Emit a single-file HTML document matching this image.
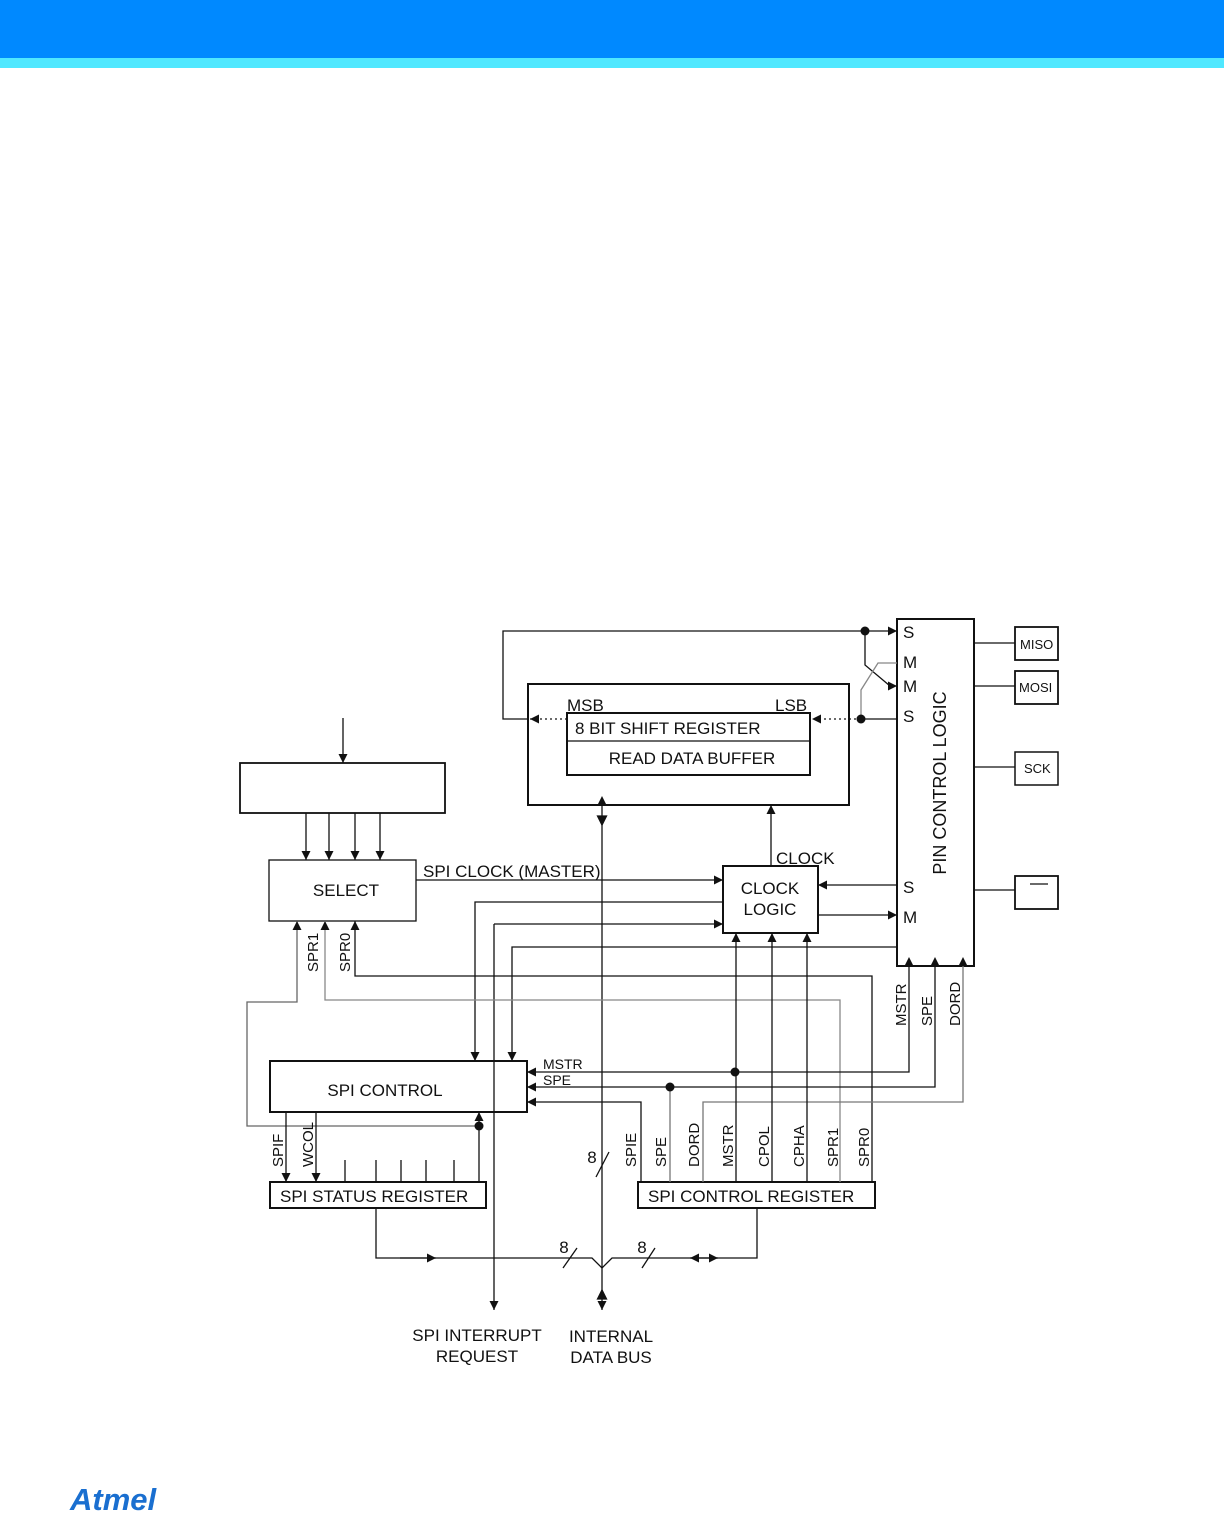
<!DOCTYPE html>
<html><head><meta charset="utf-8"><style>
html,body{margin:0;padding:0;background:#fff}
svg{display:block}
text{font-family:"Liberation Sans",Arial,sans-serif;fill:#111}
</style></head><body>
<svg width="1224" height="1513" viewBox="0 0 1224 1513" xmlns="http://www.w3.org/2000/svg">
<defs>
<marker id="a" viewBox="0 0 10 10" refX="10" refY="5" markerWidth="9" markerHeight="9" markerUnits="userSpaceOnUse" orient="auto"><path d="M0,0 L10,5 L0,10 z" fill="#111"/></marker>
<marker id="as" viewBox="0 0 10 10" refX="0" refY="5" markerWidth="9" markerHeight="9" markerUnits="userSpaceOnUse" orient="auto-start-reverse"><path d="M0,0 L10,5 L0,10 z" fill="#111"/></marker>
</defs>
<rect x="0" y="0" width="1224" height="58" fill="#0089ff"/>
<rect x="0" y="58" width="1224" height="10" fill="#50e8ff"/>
<text x="70" y="1510" font-size="31" font-style="italic" style="fill:#1a6fd0" font-weight="bold">Atmel</text>

<g fill="none" stroke="#111" stroke-width="1.3">
<rect x="897" y="619" width="77" height="347" stroke-width="2"/>
<rect x="1015" y="627" width="43" height="33" stroke-width="1.8"/>
<rect x="1015" y="671" width="43" height="33" stroke-width="1.8"/>
<rect x="1015" y="752" width="43" height="33" stroke-width="1.5"/>
<rect x="1015" y="876" width="43" height="33" stroke-width="1.8"/>
<line x1="1030" y1="884" x2="1048" y2="884"/>
<line x1="974" y1="643" x2="1015" y2="643"/>
<line x1="974" y1="686" x2="1015" y2="686"/>
<line x1="974" y1="767" x2="1015" y2="767"/>
<line x1="974" y1="890" x2="1015" y2="890"/>
<rect x="528" y="684" width="321" height="121" stroke-width="2"/>
<rect x="567" y="713" width="243" height="62" stroke-width="2"/>
<line x1="567" y1="741" x2="810" y2="741"/>
<rect x="240" y="763" width="205" height="50" stroke-width="1.8"/>
<rect x="269" y="860" width="147" height="61"/>
<rect x="723" y="866" width="95" height="67" stroke-width="2"/>
<rect x="270" y="1061" width="257" height="51" stroke-width="2"/>
<rect x="270" y="1182" width="216" height="26" stroke-width="2"/>
<rect x="638" y="1182" width="237" height="26" stroke-width="2"/>

<polyline points="528,719 503,719 503,631 897,631" marker-end="url(#a)"/>
<line x1="567" y1="719" x2="530" y2="719" stroke-dasharray="2,3" marker-end="url(#a)"/>
<line x1="897" y1="719" x2="861" y2="719"/>
<line x1="861" y1="719" x2="812" y2="719" stroke-dasharray="2,3" marker-end="url(#a)"/>
<polyline points="865,631 865,665 890,686 897,686" marker-end="url(#a)"/>
<polyline points="861,719 861,690 878,663 897,663" stroke="#888"/>
<line x1="897" y1="885" x2="818" y2="885" marker-end="url(#a)"/>
<line x1="818" y1="915" x2="897" y2="915" marker-end="url(#a)"/>
<line x1="771" y1="866" x2="771" y2="805" marker-end="url(#a)"/>
<line x1="343" y1="718" x2="343" y2="763" marker-end="url(#a)"/>
<line x1="306" y1="813" x2="306" y2="860" marker-end="url(#a)"/>
<line x1="329" y1="813" x2="329" y2="860" marker-end="url(#a)"/>
<line x1="355" y1="813" x2="355" y2="860" marker-end="url(#a)"/>
<line x1="380" y1="813" x2="380" y2="860" marker-end="url(#a)"/>
<line x1="416" y1="880" x2="723" y2="880" marker-end="url(#a)"/>
<polyline points="723,902 475,902 475,1061" marker-end="url(#a)"/>
<polyline points="494,924 723,924" marker-end="url(#a)"/>
<line x1="494" y1="924" x2="494" y2="1310" marker-end="url(#a)"/>
<polyline points="897,947 512,947 512,1061" marker-end="url(#a)"/>
<line x1="602" y1="805" x2="602" y2="1310" marker-start="url(#as)" marker-end="url(#a)"/>
<path d="M597.5,816 L602,825 L606.5,816 z" fill="#111"/>
<path d="M597.5,1299 L602,1290 L606.5,1299 z" fill="#111"/>
<line x1="596" y1="1177" x2="609" y2="1152"/>
<polyline points="872,1182 872,976 355,976 355,921" marker-end="url(#a)"/>
<polyline points="840,1182 840,1000 325,1000 325,921" stroke="#888" marker-end="url(#a)"/>
<polyline points="479,1126 247,1126 247,1002 297,1002 297,921" stroke="#666" marker-end="url(#a)"/>
<line x1="479" y1="1182" x2="479" y2="1112" marker-end="url(#a)"/>
<line x1="286" y1="1112" x2="286" y2="1182" marker-end="url(#a)"/>
<line x1="316" y1="1112" x2="316" y2="1182" marker-end="url(#a)"/>
<line x1="345" y1="1160" x2="345" y2="1182"/>
<line x1="376" y1="1160" x2="376" y2="1182"/>
<line x1="401" y1="1160" x2="401" y2="1182"/>
<line x1="426" y1="1160" x2="426" y2="1182"/>
<line x1="454" y1="1160" x2="454" y2="1182"/>
<polyline points="909,966 909,1072 527,1072" marker-start="url(#as)" marker-end="url(#a)"/>
<polyline points="935,966 935,1087 527,1087" marker-start="url(#as)" marker-end="url(#a)"/>
<polyline points="963,966 963,1102 703,1102 703,1182" stroke="#777" marker-start="url(#as)"/>
<polyline points="641,1182 641,1102 527,1102" marker-end="url(#a)"/>
<line x1="670" y1="1087" x2="670" y2="1182" stroke="#777"/>
<line x1="736" y1="1182" x2="736" y2="933" marker-end="url(#a)"/>
<line x1="772" y1="1182" x2="772" y2="933" marker-end="url(#a)"/>
<line x1="807" y1="1182" x2="807" y2="933" marker-end="url(#a)"/>
<polyline points="376,1208 376,1258 592,1258 602,1268 612,1258 757,1258 757,1208"/>
<line x1="400" y1="1258" x2="436" y2="1258" marker-end="url(#a)"/>
<line x1="704" y1="1258" x2="690" y2="1258" marker-end="url(#a)"/>
<line x1="704" y1="1258" x2="718" y2="1258" marker-end="url(#a)"/>
<line x1="563" y1="1268" x2="577" y2="1248"/>
<line x1="642" y1="1268" x2="655" y2="1248"/>
</g>
<g fill="#111">
<circle cx="865" cy="631" r="4.5"/><circle cx="861" cy="719" r="4.5"/>
<circle cx="479" cy="1126" r="4.5"/><circle cx="735" cy="1072" r="4.5"/><circle cx="670" cy="1087" r="4.5"/>
</g>

<g font-size="17">
<text x="903" y="638">S</text><text x="903" y="668">M</text><text x="903" y="692">M</text><text x="903" y="722">S</text>
<text x="903" y="893">S</text><text x="903" y="923">M</text>
<text transform="translate(946,783) rotate(-90)" text-anchor="middle" font-size="18">PIN CONTROL LOGIC</text>
<text x="567" y="711">MSB</text><text x="775" y="711">LSB</text>
<text x="575" y="734">8 BIT SHIFT REGISTER</text>
<text x="692" y="764" text-anchor="middle">READ DATA BUFFER</text>
<text x="776" y="864">CLOCK</text>
<text x="770" y="894" text-anchor="middle">CLOCK</text>
<text x="770" y="915" text-anchor="middle">LOGIC</text>
<text x="346" y="896" text-anchor="middle">SELECT</text>
<text x="423" y="877" font-size="17">SPI CLOCK (MASTER)</text>
<text x="385" y="1096" text-anchor="middle">SPI CONTROL</text>
<text x="280" y="1202" font-size="17">SPI STATUS REGISTER</text>
<text x="648" y="1202" font-size="17">SPI CONTROL REGISTER</text>
<text x="477" y="1341" text-anchor="middle">SPI INTERRUPT</text>
<text x="477" y="1362" text-anchor="middle">REQUEST</text>
<text x="611" y="1342" text-anchor="middle">INTERNAL</text>
<text x="611" y="1363" text-anchor="middle">DATA BUS</text>
<text x="592" y="1163" text-anchor="middle">8</text>
<text x="564" y="1253" text-anchor="middle">8</text>
<text x="642" y="1253" text-anchor="middle">8</text>
</g>
<g font-size="13">
<text x="1020" y="649">MISO</text><text x="1019" y="692">MOSI</text><text x="1024" y="773">SCK</text>
<text x="543" y="1069" font-size="14">MSTR</text><text x="543" y="1085" font-size="14">SPE</text>
</g>
<g font-size="15">
<text transform="translate(318,972) rotate(-90)">SPR1</text>
<text transform="translate(350,972) rotate(-90)">SPR0</text>
<text transform="translate(283,1167) rotate(-90)">SPIF</text>
<text transform="translate(313,1167) rotate(-90)">WCOL</text>
<text transform="translate(636,1167) rotate(-90)">SPIE</text>
<text transform="translate(666,1167) rotate(-90)">SPE</text>
<text transform="translate(699,1167) rotate(-90)">DORD</text>
<text transform="translate(733,1167) rotate(-90)">MSTR</text>
<text transform="translate(769,1167) rotate(-90)">CPOL</text>
<text transform="translate(804,1167) rotate(-90)">CPHA</text>
<text transform="translate(838,1167) rotate(-90)">SPR1</text>
<text transform="translate(869,1167) rotate(-90)">SPR0</text>
<text transform="translate(906,1026) rotate(-90)">MSTR</text>
<text transform="translate(932,1026) rotate(-90)">SPE</text>
<text transform="translate(960,1026) rotate(-90)">DORD</text>
</g>
</svg>
</body></html>
